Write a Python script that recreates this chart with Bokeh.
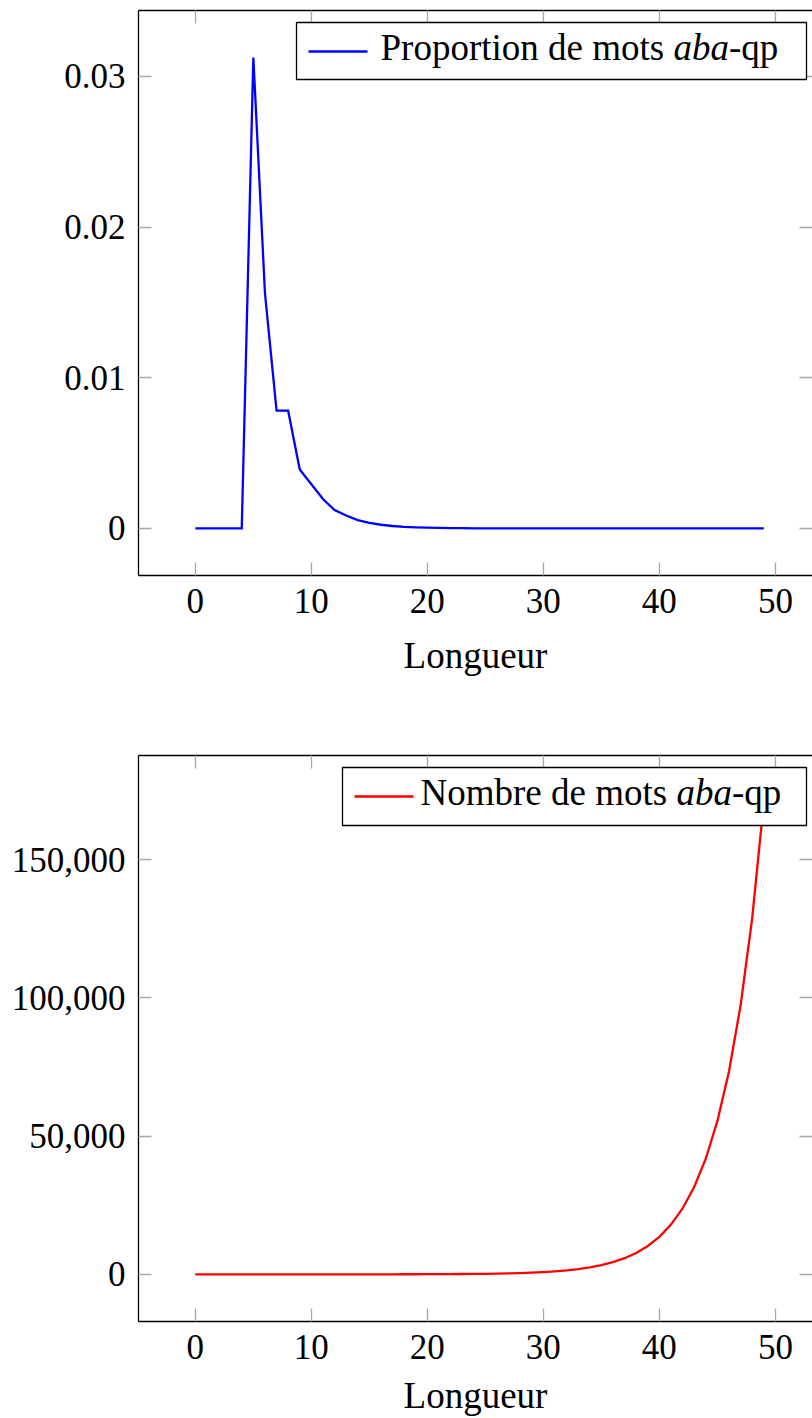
from bokeh.plotting import figure
from bokeh.models import (Range1d, LinearAxis, FixedTicker, CustomJSTickFormatter,
                          NumeralTickFormatter, BoxAnnotation, Label)
from bokeh.layouts import column
from bokeh.embed import file_html
from bokeh.resources import INLINE

# ---------------- data ----------------
lengths = list(range(50))
proportion = [0, 0, 0, 0, 0, 0.03125, 0.015625, 0.0078125, 0.0078125, 0.00390625,
              0.0029297, 0.0019531, 0.0012207, 0.00085449, 0.00054932, 0.00036621,
              0.00024414, 0.00016022, 0.00010681, 7.057e-5, 4.673e-5, 3.099e-5,
              2.050e-5, 1.359e-5, 9.00e-6, 5.96e-6, 3.95e-6, 2.62e-6, 1.73e-6,
              1.15e-6, 7.6e-7, 5.0e-7, 3.3e-7, 2.2e-7, 1.46e-7, 9.7e-8, 6.4e-8,
              4.25e-8, 2.8e-8, 1.86e-8, 1.24e-8, 8.2e-9, 5.4e-9, 3.6e-9, 2.4e-9,
              1.6e-9, 1.04e-9, 6.9e-10, 4.6e-10, 3.0e-10]
nombre = [0, 0, 0, 0, 0, 1, 1, 1, 2, 2, 3, 4, 5, 7, 9, 12, 16, 21, 28, 37, 49, 65,
          86, 114, 151, 200, 265, 351, 465, 616, 816, 1081, 1432, 1897, 2513, 3329,
          4410, 5842, 7739, 10252, 13581, 17991, 23833, 31572, 41824, 55405, 73396,
          97229, 128801, 170625]
x_ticks = [0, 10, 20, 30, 40, 50]
y_ticks_top = [0, 0.01, 0.02, 0.03]
y_ticks_bottom = [0, 50000, 100000, 150000]
x_label = "Longueur"
legend_top = ("Proportion de mots ", "aba", "-qp")
legend_bottom = ("Nombre de mots ", "aba", "-qp")

FONT = "Liberation Serif"
TICK_SIZE = 35
TEXT_SIZE = 37
LEG_SIZE = 37
TICK_COLOR = "#a8a8a8"

# Times / Liberation Serif advance widths (em) for legend piece placement
W = {'P': .556, 'r': .333, 'o': .5, 'p': .5, 't': .278, 'i': .278, 'n': .5, ' ': .25,
     'd': .5, 'e': .444, 'm': .778, 's': .389, 'N': .722, 'b': .5, 'a': .5, '-': .333,
     'q': .5}


def text_w(s, size):
    return sum(W.get(c, .5) for c in s) * size


X0, X1 = -4.9, 53.2
FL, FW = 138, 674


def style_axis(ax, labels=True):
    ax.axis_line_color = "black"
    ax.axis_line_width = 1.3
    ax.major_tick_line_color = TICK_COLOR
    ax.major_tick_line_width = 1.3
    ax.major_tick_in = 13
    ax.major_tick_out = 0
    ax.minor_tick_line_color = None
    ax.major_label_text_font = FONT
    ax.major_label_text_color = "black"
    if labels:
        ax.major_label_text_font_size = f"{TICK_SIZE}px"
    else:
        ax.major_label_text_font_size = "0px"
        ax.major_label_standoff = 0
        ax.formatter = CustomJSTickFormatter(code="return '';")


def make_fig(height, bt, bb, y0, y1, yt, yfmt, xs, ys, color, legend, page_top,
             lg_box, lg_line, lg_text, label_lh, label_standoff):
    p = figure(width=812, height=height, x_range=Range1d(X0, X1),
               y_range=Range1d(y0, y1), output_backend="svg", toolbar_location=None,
               min_border_left=FL, min_border_right=0, min_border_top=bt,
               min_border_bottom=bb)
    p.grid.visible = False
    p.outline_line_color = None
    p.background_fill_color = "white"
    p.border_fill_color = "white"

    ft = page_top + bt
    fh = height - bt - bb

    def px_x(px):
        return X0 + (px - FL) / FW * (X1 - X0)

    def px_y(py):
        return y1 - (py - ft) / fh * (y1 - y0)

    p.xaxis.ticker = FixedTicker(ticks=x_ticks)
    p.yaxis.ticker = FixedTicker(ticks=yt)
    p.yaxis.formatter = yfmt
    for ax in p.xaxis + p.yaxis:
        style_axis(ax)
    p.xaxis.major_label_standoff = 13
    p.yaxis.major_label_standoff = 13
    p.xaxis.axis_label = x_label
    p.xaxis.axis_label_text_font = FONT
    p.xaxis.axis_label_text_font_size = f"{TEXT_SIZE}px"
    p.xaxis.axis_label_text_font_style = "normal"
    p.xaxis.axis_label_text_color = "black"
    p.xaxis.axis_label_text_line_height = label_lh
    p.xaxis.axis_label_standoff = label_standoff

    top_ax = LinearAxis(ticker=FixedTicker(ticks=x_ticks))
    style_axis(top_ax, labels=False)
    p.add_layout(top_ax, "above")
    right_ax = LinearAxis(ticker=FixedTicker(ticks=yt))
    style_axis(right_ax, labels=False)
    right_ax.axis_line_color = None
    p.add_layout(right_ax, "right")

    p.line(xs, ys, line_color=color, line_width=2.3, line_join="miter")

    # legend (pgfplots-style, built from annotations)
    p.add_layout(BoxAnnotation(left=px_x(lg_box[0]), right=px_x(lg_box[1]),
                               top=px_y(lg_box[2]), bottom=px_y(lg_box[3]),
                               fill_color="white", fill_alpha=1.0,
                               line_color="black", line_width=1.3, line_alpha=1.0))
    p.segment(x0=[px_x(lg_line[0])], x1=[px_x(lg_line[1])],
              y0=[px_y(lg_line[2])], y1=[px_y(lg_line[2])],
              line_color=color, line_width=2.3, level="overlay")
    off = 0
    for piece, style in zip(legend, ("normal", "italic", "normal")):
        p.add_layout(Label(x=px_x(lg_text[0]), y=px_y(lg_text[1]), x_offset=off,
                           text=piece, text_font=FONT, text_font_size=f"{LEG_SIZE}px",
                           text_font_style=style, text_color="black",
                           text_align="left", text_baseline="alphabetic"))
        off += text_w(piece, LEG_SIZE)
    return p


ymax_top = max(proportion)
ymax_bot = max(nombre)

p1 = make_fig(745, 10, 170, -0.1 * ymax_top, 1.1 * ymax_top, y_ticks_top,
              CustomJSTickFormatter(code="return tick === 0 ? '0' : tick.toFixed(2);"),
              lengths, proportion, "#0000ff", legend_top, 0,
              (296, 806, 22, 79), (308, 367, 51), (380, 47), 1.2, 19)
p2 = make_fig(673, 10, 97, -0.1 * ymax_bot, 1.1 * ymax_bot, y_ticks_bottom,
              NumeralTickFormatter(format="0,0"),
              lengths, nombre, "#ff0000", legend_bottom, 745,
              (342, 806, 767, 825), (354, 413, 796), (420, 792), 0.9, 13)

layout = column(p1, p2, spacing=0)
open("out.html", "w").write(file_html(layout, INLINE))
